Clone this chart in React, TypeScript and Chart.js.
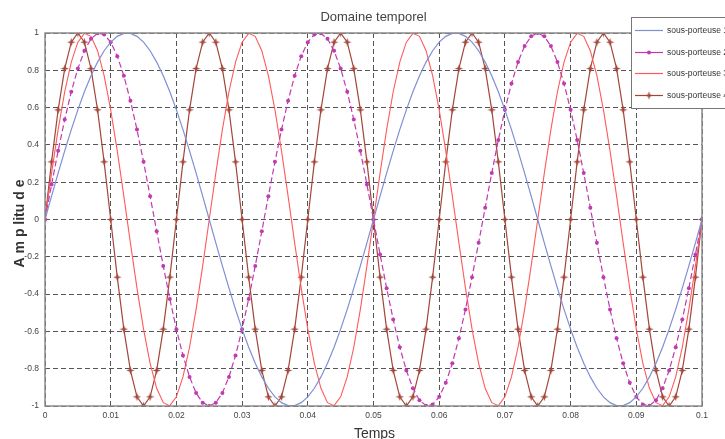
import { useEffect, useRef } from 'react';
import { Chart, registerables } from 'chart.js';
Chart.register(...registerables);

const TITLE = 'Domaine temporel';
const X_LABEL = 'Temps';
const Y_LABEL = 'A m p litu d e';
const SERIES_NAMES = ['sous-porteuse 1', 'sous-porteuse 2', 'sous-porteuse 3', 'sous-porteuse 4'];
const COLORS = ['#7f8fd4', '#c03ab0', '#ff5a5a', '#a3463a'];

const T = [
  0, 0.001, 0.002, 0.003, 0.004, 0.005, 0.006, 0.007, 0.008, 0.009,
  0.01, 0.011, 0.012, 0.013, 0.014, 0.015, 0.016, 0.017, 0.018, 0.019,
  0.02, 0.021, 0.022, 0.023, 0.024, 0.025, 0.026, 0.027, 0.028, 0.029,
  0.03, 0.031, 0.032, 0.033, 0.034, 0.035, 0.036, 0.037, 0.038, 0.039,
  0.04, 0.041, 0.042, 0.043, 0.044, 0.045, 0.046, 0.047, 0.048, 0.049,
  0.05, 0.051, 0.052, 0.053, 0.054, 0.055, 0.056, 0.057, 0.058, 0.059,
  0.06, 0.061, 0.062, 0.063, 0.064, 0.065, 0.066, 0.067, 0.068, 0.069,
  0.07, 0.071, 0.072, 0.073, 0.074, 0.075, 0.076, 0.077, 0.078, 0.079,
  0.08, 0.081, 0.082, 0.083, 0.084, 0.085, 0.086, 0.087, 0.088, 0.089,
  0.09, 0.091, 0.092, 0.093, 0.094, 0.095, 0.096, 0.097, 0.098, 0.099,
  0.1,
];

const S1 = [
  0, .125, .249, .368, .482, .588, .685, .771, .844, .905, .951, .982, .998, .998, .982, .951, .905, .844, .771, .685, .588, .482, .368, .249, .125,
  0, -.125, -.249, -.368, -.482, -.588, -.685, -.771, -.844, -.905, -.951, -.982, -.998, -.998, -.982, -.951, -.905, -.844, -.771, -.685, -.588, -.482, -.368, -.249, -.125,
  0, .125, .249, .368, .482, .588, .685, .771, .844, .905, .951, .982, .998, .998, .982, .951, .905, .844, .771, .685, .588, .482, .368, .249, .125,
  0, -.125, -.249, -.368, -.482, -.588, -.685, -.771, -.844, -.905, -.951, -.982, -.998, -.998, -.982, -.951, -.905, -.844, -.771, -.685, -.588, -.482, -.368, -.249, -.125,
  0,
];

const S2 = [
  0, .187, .368, .536, .685, .809, .905, .969, .998, .992, .951, .876, .771, .637, .482, .309, .125, -.063, -.249, -.426, -.588, -.729, -.844, -.930, -.982,
  -1, -.982, -.930, -.844, -.729, -.588, -.426, -.249, -.063, .125, .309, .482, .637, .771, .876, .951, .992, .998, .969, .905, .809, .685, .536, .368, .187,
  0, -.187, -.368, -.536, -.685, -.809, -.905, -.969, -.998, -.992, -.951, -.876, -.771, -.637, -.482, -.309, -.125, .063, .249, .426, .588, .729, .844, .930, .982,
  1, .982, .930, .844, .729, .588, .426, .249, .063, -.125, -.309, -.482, -.637, -.771, -.876, -.951, -.992, -.998, -.969, -.905, -.809, -.685, -.536, -.368, -.187,
  0,
];

const S3 = [
  0, .249, .482, .685, .844, .951, .998, .982, .905, .771, .588, .368, .125, -.125, -.368, -.588, -.771, -.905, -.982, -.998, -.951, -.844, -.685, -.482, -.249,
  0, .249, .482, .685, .844, .951, .998, .982, .905, .771, .588, .368, .125, -.125, -.368, -.588, -.771, -.905, -.982, -.998, -.951, -.844, -.685, -.482, -.249,
  0, .249, .482, .685, .844, .951, .998, .982, .905, .771, .588, .368, .125, -.125, -.368, -.588, -.771, -.905, -.982, -.998, -.951, -.844, -.685, -.482, -.249,
  0, .249, .482, .685, .844, .951, .998, .982, .905, .771, .588, .368, .125, -.125, -.368, -.588, -.771, -.905, -.982, -.998, -.951, -.844, -.685, -.482, -.249,
  0,
];

const S4 = [
  0, .309, .588, .809, .951, 1, .951, .809, .588, .309, 0, -.309, -.588, -.809, -.951, -1, -.951, -.809, -.588, -.309,
  0, .309, .588, .809, .951, 1, .951, .809, .588, .309, 0, -.309, -.588, -.809, -.951, -1, -.951, -.809, -.588, -.309,
  0, .309, .588, .809, .951, 1, .951, .809, .588, .309, 0, -.309, -.588, -.809, -.951, -1, -.951, -.809, -.588, -.309,
  0, .309, .588, .809, .951, 1, .951, .809, .588, .309, 0, -.309, -.588, -.809, -.951, -1, -.951, -.809, -.588, -.309,
  0, .309, .588, .809, .951, 1, .951, .809, .588, .309, 0, -.309, -.588, -.809, -.951, -1, -.951, -.809, -.588, -.309,
  0,
];

function makeStar(color: string) {
  const c = document.createElement('canvas');
  c.width = 9;
  c.height = 9;
  const g = c.getContext('2d')!;
  g.fillStyle = color;
  g.beginPath();
  for (let i = 0; i < 8; i++) {
    const a = -Math.PI / 2 + (i * Math.PI) / 4;
    const r = i % 2 ? 1.5 : 4.2;
    g.lineTo(4.5 + r * Math.cos(a), 4.5 + r * Math.sin(a));
  }
  g.closePath();
  g.fill();
  return c;
}

export default function App() {
  const ref = useRef<HTMLCanvasElement>(null);
  useEffect(() => {
    document.body.style.margin = '0';
    const star = makeStar(COLORS[3]);
    const pts = (s: number[]) => T.map((t, i) => ({ x: t, y: s[i] }));
    const decor = {
      id: 'decor',
      afterDraw(chart: any) {
        const ctx = chart.ctx;
        const a = chart.chartArea;
        ctx.save();
        ctx.strokeStyle = '#8c8c8c';
        ctx.lineWidth = 1.5;
        ctx.setLineDash([]);
        ctx.strokeRect(a.left, a.top, a.right - a.left, a.bottom - a.top);
        // title
        ctx.fillStyle = '#444';
        ctx.font = '13px "Liberation Sans", Arial, sans-serif';
        ctx.textAlign = 'center';
        ctx.textBaseline = 'middle';
        ctx.fillText(TITLE, (a.left + a.right) / 2, 17);
        // x label
        ctx.fillStyle = '#333';
        ctx.font = '14px "Liberation Sans", Arial, sans-serif';
        ctx.textBaseline = 'top';
        ctx.fillText(X_LABEL, (a.left + a.right) / 2 + 1, 427);
        // y label
        ctx.save();
        ctx.translate(20, (a.top + a.bottom) / 2 + 4);
        ctx.rotate(-Math.PI / 2);
        ctx.textBaseline = 'middle';
        ctx.font = 'bold 14px "Liberation Sans", Arial, sans-serif';
        ctx.fillText(Y_LABEL, 0, 0);
        ctx.restore();
        // legend
        const lx = 631.5, ly = 17.5;
        ctx.fillStyle = '#fff';
        ctx.fillRect(lx, ly, 120, 91);
        ctx.strokeStyle = '#777';
        ctx.lineWidth = 1;
        ctx.strokeRect(lx, ly, 120, 91);
        const rows = [30.5, 52.5, 73.5, 95.5];
        ctx.font = '8.5px "Liberation Sans", Arial, sans-serif';
        ctx.textAlign = 'left';
        ctx.textBaseline = 'middle';
        rows.forEach((y, i) => {
          ctx.strokeStyle = COLORS[i];
          ctx.lineWidth = 1.2;
          ctx.beginPath();
          ctx.moveTo(635, y);
          ctx.lineTo(663, y);
          ctx.stroke();
          if (i === 1) {
            ctx.fillStyle = COLORS[1];
            ctx.beginPath();
            ctx.arc(649, y, 2, 0, Math.PI * 2);
            ctx.fill();
          }
          if (i === 3) ctx.drawImage(star, 649 - 4.5, y - 4.5);
          ctx.fillStyle = '#333';
          ctx.fillText(SERIES_NAMES[i], 667, y);
        });
        ctx.restore();
      },
    };
    const chart = new Chart(ref.current!, {
      type: 'line',
      data: {
        datasets: [
          { label: SERIES_NAMES[0], data: pts(S1), borderColor: COLORS[0], borderWidth: 1.2, pointRadius: 0 },
          {
            label: SERIES_NAMES[1], data: pts(S2), borderColor: COLORS[1], borderWidth: 1.2, borderDash: [6, 3],
            pointRadius: 2, pointBackgroundColor: COLORS[1], pointBorderWidth: 0,
          },
          { label: SERIES_NAMES[2], data: pts(S3), borderColor: COLORS[2], borderWidth: 1.1, pointRadius: 0 },
          {
            label: SERIES_NAMES[3], data: pts(S4), borderColor: COLORS[3], borderWidth: 1.2,
            pointStyle: star as any, pointRadius: 4,
          },
        ],
      },
      options: {
        animation: false,
        responsive: false,
        events: [],
        layout: { padding: { top: 33, right: 23, left: 0, bottom: 0 } },
        plugins: { legend: { display: false }, title: { display: false }, tooltip: { enabled: false } },
        scales: {
          x: {
            type: 'linear',
            min: 0,
            max: 0.1,
            afterFit: (s: any) => { s.height = 33; },
            grid: { color: '#555', lineWidth: 1, drawTicks: false },
            border: { display: false, dash: [5, 3] },
            ticks: {
              stepSize: 0.01,
              padding: 5,
              color: '#444',
              font: { size: 8.5, family: '"Liberation Sans", Arial, sans-serif' },
              maxRotation: 0,
              callback: (v: any) => String(Math.round(Number(v) * 100) / 100),
            },
          },
          y: {
            min: -1,
            max: 1,
            afterFit: (s: any) => { s.width = 45; },
            grid: { color: '#555', lineWidth: 1, drawTicks: false },
            border: { display: false, dash: [5, 3] },
            ticks: {
              stepSize: 0.2,
              padding: 6,
              color: '#444',
              font: { size: 8.5, family: '"Liberation Sans", Arial, sans-serif' },
              callback: (v: any) => String(Math.round(Number(v) * 10) / 10),
            },
          },
        },
      },
      plugins: [decor],
    });
    return () => chart.destroy();
  }, []);
  return (
    <div style={{ position: 'absolute', left: 0, top: 0, width: 725, height: 439, background: '#fff' }}>
      <canvas ref={ref} width={725} height={439} style={{ width: 725, height: 439, display: 'block' }} />
    </div>
  );
}
